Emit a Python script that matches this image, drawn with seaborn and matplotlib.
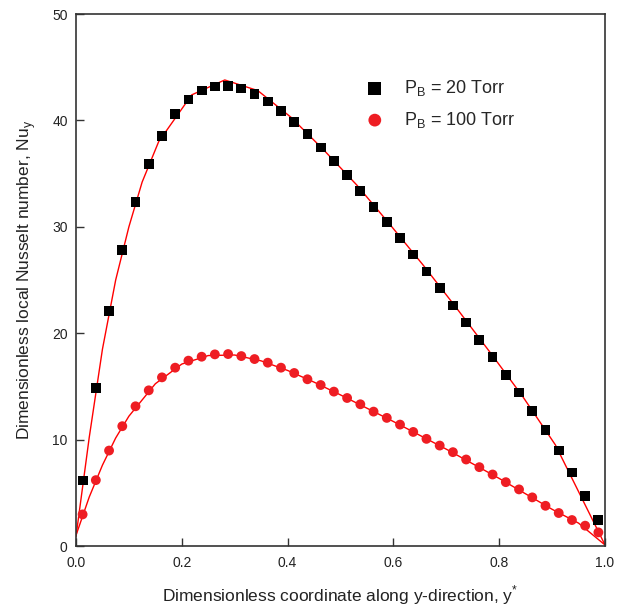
import numpy as np
import pandas as pd
import seaborn as sns
import matplotlib
matplotlib.use('Agg')
import matplotlib.pyplot as plt

# measured points (y* positions)
y_star = [0.0125, 0.0375, 0.0625, 0.0875, 0.1125, 0.1375, 0.1625, 0.1875, 0.2125, 0.2375,
          0.2625, 0.2875, 0.3125, 0.3375, 0.3625, 0.3875, 0.4125, 0.4375, 0.4625, 0.4875,
          0.5125, 0.5375, 0.5625, 0.5875, 0.6125, 0.6375, 0.6625, 0.6875, 0.7125, 0.7375,
          0.7625, 0.7875, 0.8125, 0.8375, 0.8625, 0.8875, 0.9125, 0.9375, 0.9625, 0.9875]

nu_20 = [6.16, 14.85, 22.11, 27.83, 32.33, 35.93, 38.56, 40.59, 41.96, 42.81,
         43.18, 43.22, 43.00, 42.47, 41.77, 40.87, 39.87, 38.71, 37.46, 36.18,
         34.83, 33.40, 31.89, 30.42, 28.92, 27.39, 25.80, 24.23, 22.61, 21.01,
         19.39, 17.76, 16.11, 14.42, 12.69, 10.88, 8.97, 6.91, 4.69, 2.41]

nu_100 = [2.97, 6.19, 8.97, 11.26, 13.13, 14.63, 15.85, 16.76, 17.42, 17.79,
          18.01, 18.04, 17.85, 17.57, 17.23, 16.76, 16.26, 15.67, 15.13, 14.51,
          13.91, 13.32, 12.63, 12.04, 11.41, 10.72, 10.07, 9.44, 8.82, 8.13,
          7.41, 6.72, 6.00, 5.32, 4.57, 3.78, 3.10, 2.44, 1.91, 1.28]

# fitted curves (red lines)
fit20_x = [0.0, 0.025, 0.05, 0.075, 0.1, 0.125, 0.15625, 0.21875, 0.28125, 0.34375,
           0.40625, 0.46875, 0.53125, 0.59375, 0.65625, 0.71875, 0.78125, 0.84375, 0.90625, 1.0]
fit20_y = [0.9, 10.2, 18.5, 25.0, 30.0, 34.2, 38.0, 42.4, 43.8, 42.8,
           40.3, 37.2, 33.9, 30.2, 26.4, 22.4, 18.3, 14.1, 9.5, 0.1]

fit100_x = [0.0, 0.025, 0.05, 0.075, 0.1, 0.15, 0.2, 0.25, 0.3, 0.35,
            0.4, 0.45, 0.5, 0.6, 0.7, 0.8, 0.9, 0.95, 1.0]
fit100_y = [1.0, 4.6, 7.6, 10.15, 12.2, 15.25, 17.1, 17.9, 17.95, 17.4,
            16.5, 15.4, 14.2, 11.7, 9.1, 6.35, 3.45, 2.15, 0.1]

df = pd.DataFrame({'y': y_star, 'nu20': nu_20, 'nu100': nu_100})
fit20 = pd.DataFrame({'x': fit20_x, 'nu': fit20_y})
fit100 = pd.DataFrame({'x': fit100_x, 'nu': fit100_y})

sns.set_style('ticks')
plt.rcParams['font.family'] = ['Liberation Sans', 'DejaVu Sans']
plt.rcParams['mathtext.fontset'] = 'custom'
plt.rcParams['mathtext.rm'] = 'Liberation Sans'

fig = plt.figure(figsize=(6.27, 6.12), dpi=100)
ax = fig.add_axes([76/627, 1 - 546/612, 529/627, 532/612])

red = '#ee1d23'
sns.lineplot(data=fit20, x='x', y='nu', ax=ax, color='#ff0000', lw=1.0, legend=False)
sns.lineplot(data=fit100, x='x', y='nu', ax=ax, color='#ff0000', lw=1.0, legend=False)
sns.scatterplot(data=df, x='y', y='nu20', ax=ax, marker='s', color='black', s=50,
                edgecolor='none', label=r'P$_\mathregular{B}$ = 20 Torr', zorder=3, clip_on=False)
sns.scatterplot(data=df, x='y', y='nu100', ax=ax, marker='o', color=red, s=50,
                edgecolor='none', label=r'P$_\mathregular{B}$ = 100 Torr', zorder=3, clip_on=False)

ax.set_xlim(0, 1.0)
ax.set_ylim(0, 50)
ax.set_xticks([0.0, 0.2, 0.4, 0.6, 0.8, 1.0])
ax.set_yticks([0, 10, 20, 30, 40, 50])
ax.set_xticklabels(['0.0', '0.2', '0.4', '0.6', '0.8', '1.0'])
ax.tick_params(direction='in', length=6, width=1, colors='#333333', labelsize=10,
               labelcolor='#222222', top=False, right=False)
ax.tick_params(axis='x', pad=7)
ax.tick_params(axis='y', pad=6)
for sp in ax.spines.values():
    sp.set_visible(True)
    sp.set_color('#333333')
    sp.set_linewidth(1.2)

ax.set_xlabel(r'Dimensionless coordinate along y-direction, y$^\mathregular{*}$',
              fontsize=12.5, color='#222222', labelpad=10)
ax.set_ylabel(r'Dimensionless local Nusselt number, Nu$_\mathregular{y}$',
              fontsize=12.5, color='#222222', labelpad=10)

leg = ax.legend(loc='upper left', bbox_to_anchor=(0.5, 0.91), frameon=False,
                fontsize=13, markerscale=1.3, handletextpad=0.6, labelspacing=0.65)

fig.savefig('out.png', dpi=100)
